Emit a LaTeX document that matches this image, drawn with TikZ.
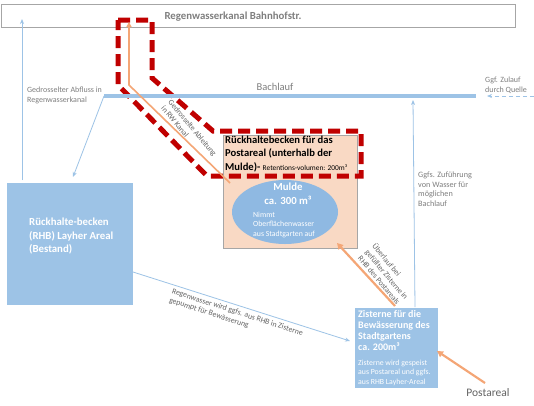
\documentclass[tikz,border=0pt]{standalone}
\usepackage{fontspec}
\setmainfont{Carlito}
\usetikzlibrary{arrows.meta,shapes.geometric}
\definecolor{boxblue}{HTML}{9DC3E6}
\definecolor{ellblue}{HTML}{8FB9E2}
\definecolor{lineblue}{HTML}{9DC3E6}
\definecolor{peach}{HTML}{F9D9C4}
\definecolor{darkred}{HTML}{C00000}
\definecolor{orangeln}{HTML}{F4A676}
\definecolor{txtgray}{HTML}{7F7F7F}
\definecolor{txtdark}{HTML}{636363}
\definecolor{bordergray}{HTML}{A6A6A6}
\tikzset{
  lbl/.style={inner sep=0pt, text=txtgray, font=\fontsize{8}{9.6}\selectfont, align=left},
  rlbl/.style={inner sep=0pt, text=txtdark, font=\fontsize{7.8}{9.3}\selectfont, align=left},
  bluebox/.style={fill=boxblue, draw=none, inner sep=0pt, anchor=north west},
  blueln/.style={draw=lineblue, line width=0.8pt},
  bluearr/.style={blueln, -{Stealth[length=5pt,width=4pt]}},
  orarr/.style={draw=orangeln, line width=2.2pt, -{Triangle[length=6pt,width=6.5pt]}},
  reddash/.style={draw=darkred, line width=5pt, dash pattern=on 12pt off 6pt, line join=miter},
  whitetxt/.style={inner sep=0pt, text=white, align=left},
}
\begin{document}
\begin{tikzpicture}[x=1pt,y=-1pt]
\useasboundingbox[fill=white] (0,0) rectangle (534,405);

% top channel box
\node[draw=bordergray, line width=0.6pt, fill=white, minimum width=514pt, minimum height=23pt, anchor=north west, inner sep=0pt] (kanal) at (1,4) {};
\node[inner sep=0pt, text=txtgray, font=\bfseries\fontsize{10.8}{12}\selectfont] (kanaltxt) at (233,17) {Regenwasserkanal Bahnhofstr.};

% peach retention box
\node[draw=bordergray, line width=0.6pt, fill=peach, minimum width=134pt, minimum height=113pt, anchor=north west, inner sep=0pt] (rbpost) at (223,135) {};
\node[ellipse, fill=ellblue, minimum width=106pt, minimum height=64pt, inner sep=0pt] (mulde) at (285,212) {};
\node[inner sep=0pt, text=white, align=center, anchor=north, font=\bfseries\fontsize{10.8}{14}\selectfont] (muldetxt) at (288,183) {Mulde\\ca. 300 m³};
\node[whitetxt, anchor=north west, font=\fontsize{7.8}{9.8}\selectfont] (muldesub) at (253,211.5) {Nimmt\\Oberflächenwasser\\aus Stadtgarten auf};

% red dashed outline
\coordinate (r1) at (118,20);
\coordinate (r2) at (152,20);
\coordinate (r3) at (152,78);
\coordinate (r4) at (213,131);
\coordinate (r5) at (361,131);
\coordinate (r6) at (361,176);
\coordinate (r7) at (207,176);
\coordinate (r8) at (118,85);
\draw[reddash] (r1) -- (r2) -- (r3) -- (r4) -- (r5) -- (r6) -- (r7) -- (r8) -- cycle;

\node[inner sep=0pt, anchor=north west, align=left, text=black, font=\bfseries\fontsize{10.6}{13.2}\selectfont] (rbtitle) at (225,136) {Rückhaltebecken für das\\Postareal (unterhalb der\\Mulde)- {\mdseries\fontsize{7.4}{13}\selectfont Retentions-volumen: 200m³}};

% RHB Layher box
\node[bluebox, minimum width=126pt, minimum height=122pt] (rhb) at (7,183) {};
\node[whitetxt, anchor=north west, font=\bfseries\fontsize{10.8}{13.5}\selectfont] (rhbtxt) at (29,218) {Rückhalte-becken\\(RHB) Layher Areal\\(Bestand)};

% Zisterne box
\node[bluebox, minimum width=83pt, minimum height=80pt] (zist) at (355,308) {};
\node[whitetxt, anchor=north west, font=\bfseries\fontsize{10}{11}\selectfont] (zisttxt) at (358,310.5) {Zisterne für die\\Bewässerung des\\Stadtgartens\\ca. 200m³};
\node[whitetxt, anchor=north west, font=\fontsize{7.8}{9.7}\selectfont] (zistsub) at (358,359.5) {Zisterne wird gespeist\\aus Postareal und ggfs.\\aus RHB Layher-Areal};

% Bachlauf
\coordinate (bachL) at (104,96);
\coordinate (bachR) at (476,96);
\draw[draw=lineblue, line width=3.5pt] (bachL) -- (bachR);
\node[inner sep=0pt, text=txtgray, font=\fontsize{10.5}{12}\selectfont] (bachtxt) at (275,87) {Bachlauf};

% blue connectors
\coordinate (abflEnd) at (73,177);
\draw[bluearr] (bachL) -- (abflEnd);
\coordinate (leftTop) at (22,19);
\coordinate (leftBot) at (22,180);
\draw[bluearr] (leftBot) -- (leftTop);
\coordinate (rightBot) at (415,307);
\coordinate (rightTop) at (413,100);
\draw[bluearr] (rightBot) -- (rightTop);
\coordinate (quelle) at (534,96);
\coordinate (quelleEnd) at (487,96);
\draw[bluearr, dash pattern=on 4pt off 3pt] (quelle) -- (quelleEnd);
\coordinate (pumpA) at (133,272);
\coordinate (pumpB) at (350,341);
\draw[bluearr] (pumpA) -- (pumpB);

% orange connectors
\coordinate (dA) at (230,183);
\coordinate (dB) at (129,85);
\coordinate (dC) at (129,22);
\draw[draw=orangeln, line width=1.6pt, -{Triangle[length=5pt,width=5pt]}] (dA) -- (dB) -- (dC);
\coordinate (ueA) at (395,306);
\coordinate (ueB) at (337,243);
\draw[orarr] (ueA) -- (ueB);
\coordinate (poA) at (485,383);
\coordinate (poB) at (437,351);
\draw[orarr] (poA) -- (poB);

% labels
\node[lbl, anchor=west] (abfltxt) at (27,95.5) {Gedrosselter Abfluss in\\Regenwasserkanal};
\node[lbl, anchor=west] (quelletxt) at (485,85) {Ggf. Zulauf\\durch Quelle};
\node[lbl, anchor=north west, font=\fontsize{8.2}{9.6}\selectfont] (zuftxt) at (418,171.5) {Ggfs. Zuführung\\von Wasser für\\möglichen\\Bachlauf};
\node[rlbl, rotate=-50] (drostxt) at (189,131) {Gedrosselte Ableitung\\in RW Kanal};
\node[rlbl, rotate=-50] (uetxt) at (387,274.5) {Überlauf bei\\gefüllter Zisterne in\\RHB des Postareals};
\node[rlbl, rotate=-18] (pumptxt) at (236,317) {Regenwasser wird ggfs. aus RHB in Zisterne\\gepumpt für Bewässerung};
\node[inner sep=0pt, text=txtdark, font=\fontsize{11.5}{13}\selectfont] (postxt) at (488,393) {Postareal};
\end{tikzpicture}
\end{document}
